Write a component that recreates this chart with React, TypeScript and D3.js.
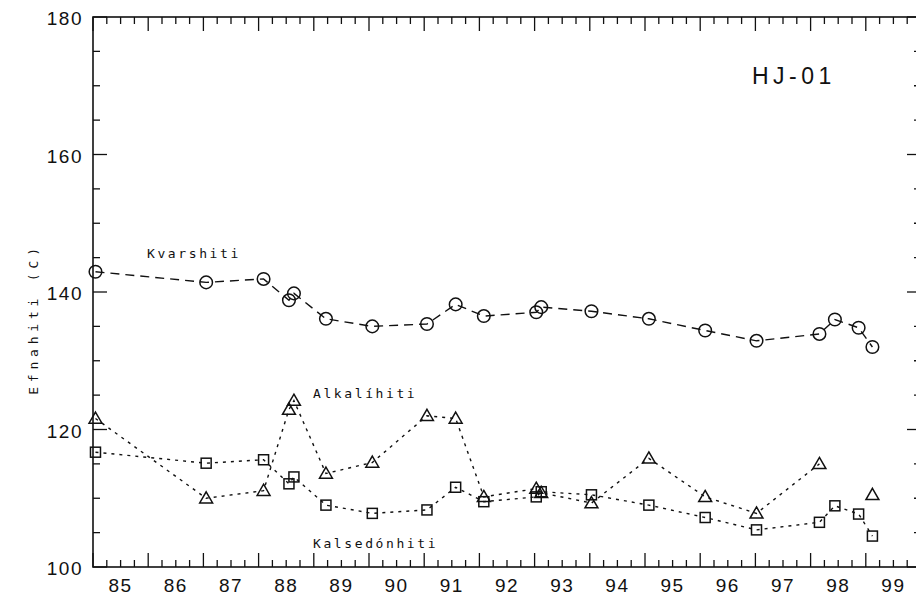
import React from "react";
import * as d3 from "d3";

const years = [1985.045, 1987.05, 1988.09, 1988.55, 1988.64, 1989.22, 1990.06, 1991.05, 1991.57, 1992.08, 1993.03, 1993.12, 1994.03, 1995.07, 1996.09, 1997.02, 1998.16, 1998.44, 1998.87, 1999.12];
const kvarshiti = [142.95, 141.4, 141.9, 138.8, 139.8, 136.1, 135.0, 135.35, 138.2, 136.5, 137.05, 137.8, 137.2, 136.1, 134.4, 132.9, 133.9, 136.0, 134.8, 132.0];
const alkalihiti: (number | null)[] = [121.6, 110.0, 111.1, 122.9, 124.2, 113.6, 115.2, 122.0, 121.6, 110.2, 111.4, 110.8, 109.3, 115.8, 110.2, 107.8, 115.0, null, null, 110.5];
const kalsedonhiti = [116.7, 115.1, 115.6, 112.1, 113.1, 109.0, 107.8, 108.3, 111.6, 109.5, 110.2, 110.95, 110.5, 109.0, 107.2, 105.4, 106.5, 108.9, 107.7, 104.5];
const yearLabels = ["85", "86", "87", "88", "89", "90", "91", "92", "93", "94", "95", "96", "97", "98", "99"];
const yTickLabels = [100, 120, 140, 160, 180];

const W = 916, H = 597;
const L = 93, R = 921, T = 17, B = 567;

export default function App() {
  const x = d3.scaleLinear().domain([1985, 2000]).range([L, R]);
  const y = d3.scaleLinear().domain([100, 180]).range([B, T]);
  const ink = "#111";

  const xMinor = d3.range(1985, 2000.01, 0.25);
  const yMinor = d3.range(100, 180.01, 5);

  const mk = (vals: (number | null)[]) =>
    d3.line<number>()
      .defined((_, i) => vals[i] != null)
      .x((_, i) => x(years[i]))
      .y((_, i) => y(vals[i] as number))(years.map((_, i) => i)) || "";

  const triPath = d3.symbol(d3.symbolTriangle, 72)() || "";

  const mono = "'DejaVu Sans Mono', monospace";
  const sans = "'Liberation Sans', Arial, sans-serif";

  return (
    <svg width={W} height={H} style={{ position: "absolute", left: 0, top: 0, background: "#fff" }}>
      <rect x={0} y={0} width={W} height={H} fill="#fff" />
      <rect x={L} y={T} width={R - L} height={B - T} fill="none" stroke={ink} strokeWidth={1.6} />
      {xMinor.map((v, i) => {
        const major = Math.abs(v - Math.round(v)) < 1e-6;
        const len = major ? 14 : 7;
        return (
          <g key={"xt" + i}>
            <line x1={x(v)} x2={x(v)} y1={B} y2={B - len} stroke={ink} strokeWidth={1.3} />
            <line x1={x(v)} x2={x(v)} y1={T} y2={T + len} stroke={ink} strokeWidth={1.3} />
          </g>
        );
      })}
      {yMinor.map((v, i) => {
        const major = v % 20 === 0;
        const len = major ? 14 : 7;
        return (
          <g key={"yt" + i}>
            <line x1={L} x2={L + len} y1={y(v)} y2={y(v)} stroke={ink} strokeWidth={1.3} />
            <line x1={R} x2={R - len} y1={y(v)} y2={y(v)} stroke={ink} strokeWidth={1.3} />
          </g>
        );
      })}
      {yearLabels.map((t, i) => (
        <text key={"xl" + i} x={x(1985 + i + 0.5)} y={592} textAnchor="middle" fontFamily={sans} fontSize={19} letterSpacing={1.5} fill={ink}>{t}</text>
      ))}
      {yTickLabels.map((v) => (
        <text key={"yl" + v} x={83} y={y(v) + 8} textAnchor="end" fontFamily={sans} fontSize={19} letterSpacing={1.5} fill={ink}>{v}</text>
      ))}
      <text transform={`translate(38,${319}) rotate(-90)`} textAnchor="middle" fontFamily={mono} fontSize={13} letterSpacing={4.8} fill={ink}>Efnahiti (C)</text>
      <text x={752} y={84} fontFamily={sans} fontSize={23} letterSpacing={4.5} fill={ink}>HJ-01</text>

      <path d={mk(kvarshiti)} fill="none" stroke={ink} strokeWidth={1.4} strokeDasharray="9,6" />
      <path d={mk(alkalihiti)} fill="none" stroke={ink} strokeWidth={1.4} strokeDasharray="3,5" />
      <path d={mk(kalsedonhiti)} fill="none" stroke={ink} strokeWidth={1.4} strokeDasharray="3,5" />

      {kvarshiti.map((v, i) => (
        <circle key={"c" + i} cx={x(years[i])} cy={y(v)} r={6.3} fill="none" stroke={ink} strokeWidth={1.5} />
      ))}
      {alkalihiti.map((v, i) => v == null ? null : (
        <path key={"t" + i} d={triPath} transform={`translate(${x(years[i])},${y(v) + 1})`} fill="none" stroke={ink} strokeWidth={1.5} />
      ))}
      {kalsedonhiti.map((v, i) => (
        <rect key={"s" + i} x={x(years[i]) - 5} y={y(v) - 5} width={10} height={10} fill="none" stroke={ink} strokeWidth={1.5} />
      ))}

      <text x={147} y={258} fontFamily={mono} fontSize={13} letterSpacing={2.6} fill={ink}>Kvarshiti</text>
      <text x={313} y={398} fontFamily={mono} fontSize={13} letterSpacing={2.6} fill={ink}>Alkalíhiti</text>
      <text x={313} y={548} fontFamily={mono} fontSize={13} letterSpacing={2.6} fill={ink}>Kalsedónhiti</text>
    </svg>
  );
}
